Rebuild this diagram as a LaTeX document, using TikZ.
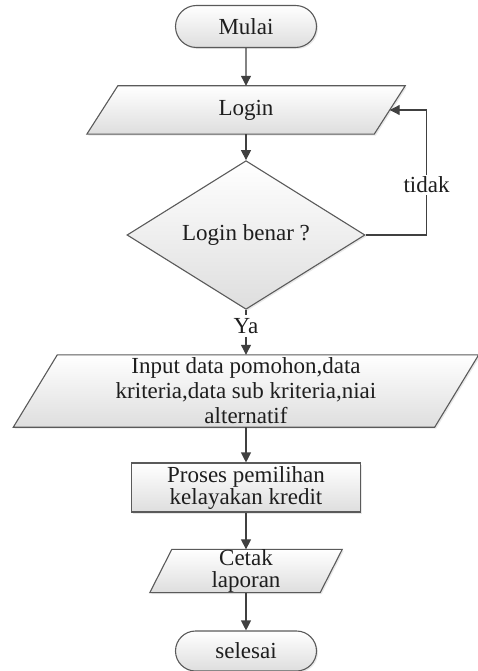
\documentclass[tikz,border=0pt]{standalone}
\usepackage{fontspec}
\setmainfont{Liberation Serif}
\usetikzlibrary{shapes.geometric,shapes.misc,arrows.meta,backgrounds,shadows,calc}
\definecolor{linec}{HTML}{404040}
\definecolor{edgec}{HTML}{5A5A5A}
\definecolor{txtc}{HTML}{1E1E1E}
\newcommand\drawio[2]{%
  \path[boxfill] ($(#1.north west)+(#2/2,0)$) -- ($(#1.north east)+(#2/2,0)$)
    -- ($(#1.south east)-(#2/2,0)$) -- ($(#1.south west)-(#2/2,0)$) -- cycle;}
\begin{document}
\begin{tikzpicture}[x=1pt,y=1pt,
  every node/.style={font=\fontsize{23}{25}\selectfont, text=txtc},
  boxfill/.style={draw=edgec, line width=1.1pt, top color=white, bottom color=black!13,
    drop shadow={opacity=0.18, shadow xshift=1.5pt, shadow yshift=-1.5pt}},
  term/.style={boxfill, rounded rectangle, minimum width=141pt, minimum height=42pt, inner sep=0pt},
  proc/.style={boxfill, rectangle, inner sep=0pt, align=center},
  dec/.style={boxfill, diamond, minimum width=238pt, minimum height=124pt, inner sep=0pt},
  iotext/.style={rectangle, inner sep=0pt, align=center},
  arr/.style={draw=linec, line width=1.1pt, -{Triangle[length=10pt,width=10pt]}},
  ln/.style={draw=linec, line width=1.1pt},
  lbl/.style={fill=white, inner sep=2pt}
]
\useasboundingbox (0,0) rectangle (478,-671);

\node[term] (start) at (246,-26.5) {Mulai};
\node[iotext, minimum width=287pt, minimum height=48pt] (login) at (246,-110) {Login};
\node[dec] (cek) at (246,-235) {Login benar ?};
\node[inner sep=3pt] (ya) at (246,-326) {Ya};
\node[iotext, minimum width=421pt, minimum height=72pt] (input) at (246,-391)
  {Input data pomohon,data\\kriteria,data sub kriteria,niai\\alternatif};
\node[proc, minimum width=229pt, minimum height=49pt, font=\fontsize{23}{22}\selectfont] (proses) at (246,-487.5)
  {Proses pemilihan\\kelayakan kredit};
\node[iotext, minimum width=170pt, minimum height=42pt, font=\fontsize{23}{22}\selectfont] (cetak) at (246,-571)
  {Cetak\\laporan};
\node[term, minimum height=40pt] (end) at (246,-651) {selesai};

\begin{pgfonlayer}{background}
\drawio{login}{31}
\drawio{input}{44}
\drawio{cetak}{22}
\end{pgfonlayer}

\draw[arr] (start) -- (login);
\draw[arr] (login) -- (cek);
\draw[ln] (cek) -- (ya);
\draw[arr] (ya) -- (input);
\draw[arr] (input) -- (proses);
\draw[arr] (proses) -- (cetak);
\draw[arr] (cetak) -- (end);
\draw[arr] (cek.east) -- ++(61,0) coordinate (lp)
  -- node[lbl, pos=0.4] {tidak} (lp |- login.east) -- (login.east);
\end{tikzpicture}
\end{document}
